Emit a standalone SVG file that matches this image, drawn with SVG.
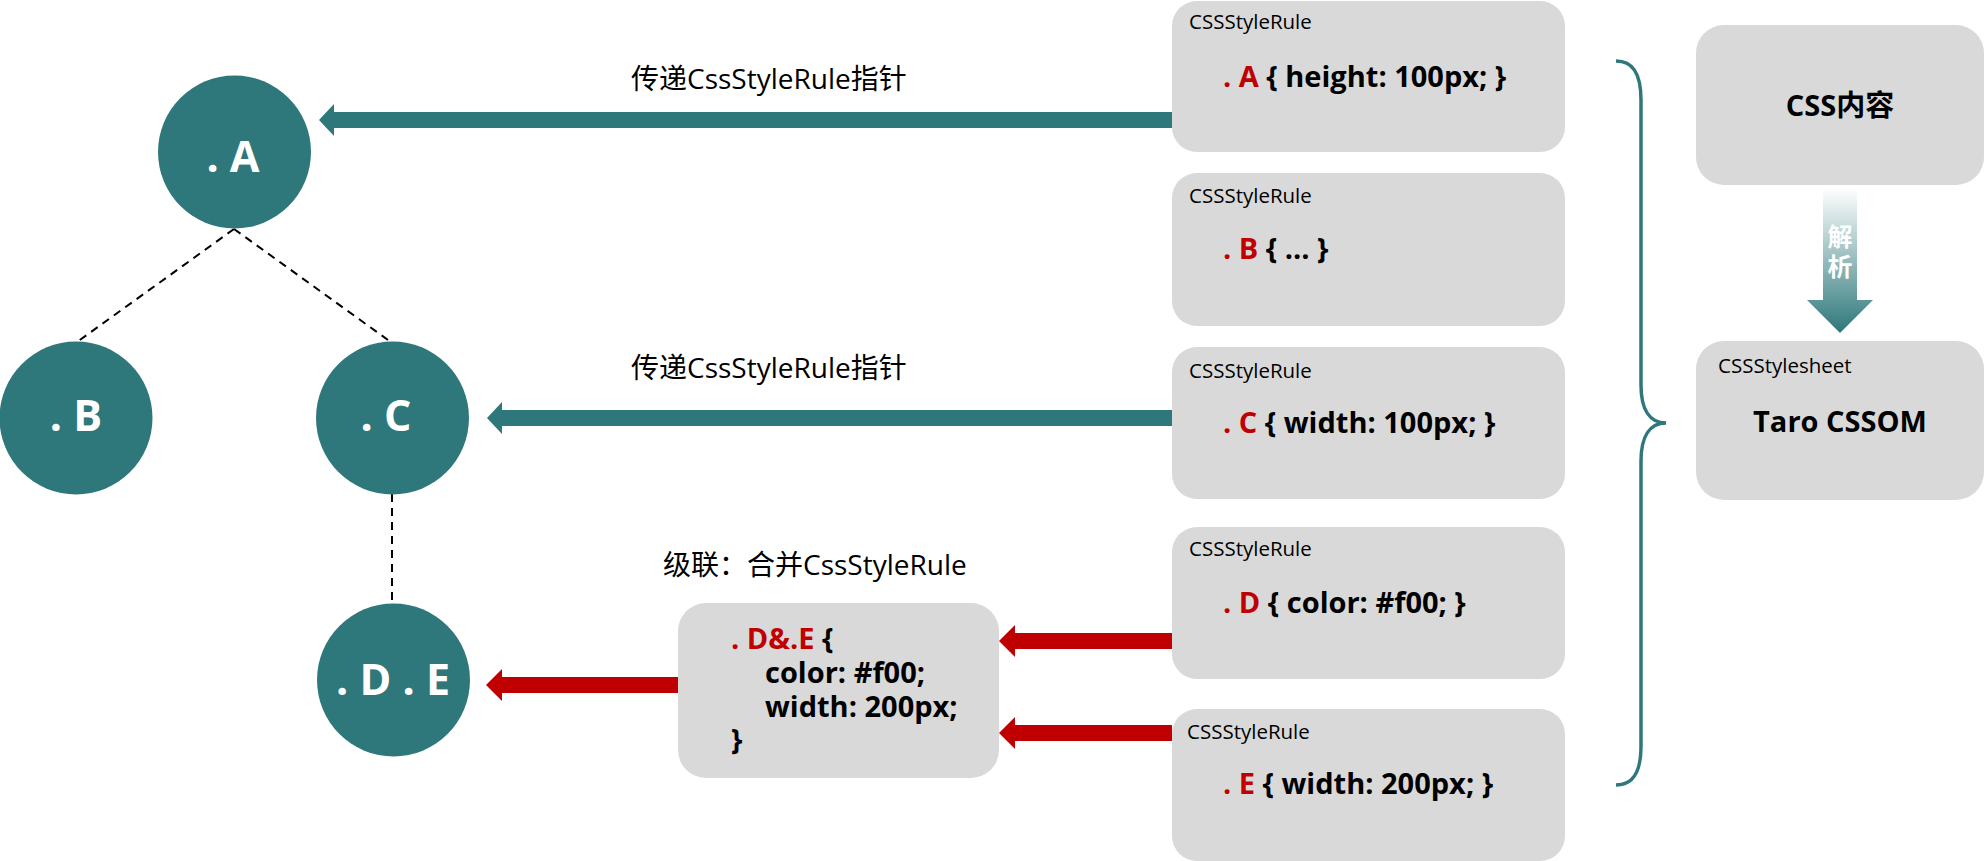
<svg xmlns="http://www.w3.org/2000/svg" width="1985" height="861" viewBox="0 0 1985 861">
  <defs>
    <linearGradient id="parseGrad" gradientUnits="userSpaceOnUse" x1="0" y1="188" x2="0" y2="333">
      <stop offset="0" stop-color="#ffffff"/>
      <stop offset="1" stop-color="#2e787b"/>
    </linearGradient>
  </defs>
  <style>
    text { font-family: "Open Sans", "Noto Sans CJK SC", sans-serif; }
    .circle { fill: #2e787b; }
    .ctext { fill: #ffffff; font-weight: bold; font-size: 43px; text-anchor: middle; }
    .box { fill: #d9d9d9; }
    .lbl { fill: #000000; font-size: 20.5px; }
    .code { fill: #000000; font-weight: bold; font-size: 29px; }
    .red { fill: #c00000; }
    .note { fill: #000000; font-size: 28px; }
    .title { fill: #000000; font-weight: bold; font-size: 29px; text-anchor: middle; }
    .teal-arrow { fill: #2e787b; }
    .red-arrow { fill: #c00000; }
    .dash { stroke: #000000; stroke-width: 2; stroke-dasharray: 8 6; fill: none; }
    .brace { stroke: #2e787b; stroke-width: 3.5; fill: none; }
  </style>

  <!-- connectors -->
  <g id="connectors">
    <line class="dash" x1="234" y1="229" x2="77" y2="342"/>
    <line class="dash" x1="234" y1="229" x2="388" y2="340"/>
    <line class="dash" x1="392" y1="494" x2="392" y2="602"/>
    <polygon class="teal-arrow" points="1172,112 334,112 334,104 319,120 334,136 334,128 1172,128"/>
    <polygon class="teal-arrow" points="1172,410 502,410 502,402 487,418 502,434 502,426 1172,426"/>
    <polygon class="red-arrow" points="678,677 502,677 502,669 486,685 502,701 502,693 678,693"/>
    <polygon class="red-arrow" points="1172,633 1015,633 1015,625 999,641 1015,657 1015,649 1172,649"/>
    <polygon class="red-arrow" points="1172,725 1015,725 1015,717 999,733 1015,749 1015,741 1172,741"/>
    <path class="brace" d="M1616,61 C1632,61 1641,72 1641,100 L1641,385 C1641,410 1650,423 1666,423 C1650,423 1641,436 1641,461 L1641,746 C1641,774 1632,785 1616,785"/>
    <g id="parse-arrow">
      <polygon fill="url(#parseGrad)" points="1823,188 1857,188 1857,300 1873,300 1840,333 1807,300 1823,300"/>
      <text x="1840" y="246" fill="#ffffff" font-size="25" font-weight="bold" text-anchor="middle">解</text>
      <text x="1840" y="276" fill="#ffffff" font-size="25" font-weight="bold" text-anchor="middle">析</text>
    </g>
  </g>

  <!-- labels -->
  <g id="labels">
    <text class="note" x="631" y="89">传递CssStyleRule指针</text>
    <text class="note" x="631" y="378">传递CssStyleRule指针</text>
    <text class="note" x="663" y="575">级联：合并CssStyleRule</text>
  </g>

  <!-- tree nodes -->
  <g id="node-A">
    <circle class="circle" cx="234.5" cy="152" r="76.5"/>
    <text class="ctext" x="233" y="172">. A</text>
  </g>
  <g id="node-B">
    <circle class="circle" cx="76" cy="418" r="76.5"/>
    <text class="ctext" x="76" y="431">. B</text>
  </g>
  <g id="node-C">
    <circle class="circle" cx="392.5" cy="418" r="76.5"/>
    <text class="ctext" x="386" y="431">. C</text>
  </g>
  <g id="node-DE">
    <circle class="circle" cx="393.5" cy="680" r="76.5"/>
    <text class="ctext" x="393" y="695">. D . E</text>
  </g>

  <!-- merged rule -->
  <g id="node-merged">
    <rect class="box" x="678" y="603" width="321" height="175" rx="28"/>
    <text class="code" x="731" y="649"><tspan class="red">. D&amp;.E</tspan> {</text>
    <text class="code" x="765" y="683">color: #f00;</text>
    <text class="code" x="765" y="717">width: 200px;</text>
    <text class="code" x="731" y="750">}</text>
  </g>

  <!-- CSSStyleRule boxes -->
  <g id="rule-A">
    <rect class="box" x="1172" y="1" width="393" height="151" rx="25"/>
    <text class="lbl" x="1189" y="29">CSSStyleRule</text>
    <text class="code" x="1223" y="87"><tspan class="red">. A</tspan> { height: 100px; }</text>
  </g>
  <g id="rule-B">
    <rect class="box" x="1172" y="173" width="393" height="153" rx="25"/>
    <text class="lbl" x="1189" y="203">CSSStyleRule</text>
    <text class="code" x="1223" y="259"><tspan class="red">. B</tspan> { … }</text>
  </g>
  <g id="rule-C">
    <rect class="box" x="1172" y="347" width="393" height="152" rx="25"/>
    <text class="lbl" x="1189" y="378">CSSStyleRule</text>
    <text class="code" x="1223" y="433"><tspan class="red">. C</tspan> { width: 100px; }</text>
  </g>
  <g id="rule-D">
    <rect class="box" x="1172" y="527" width="393" height="152" rx="25"/>
    <text class="lbl" x="1189" y="556">CSSStyleRule</text>
    <text class="code" x="1223" y="613"><tspan class="red">. D</tspan> { color: #f00; }</text>
  </g>
  <g id="rule-E">
    <rect class="box" x="1172" y="709" width="393" height="152" rx="25"/>
    <text class="lbl" x="1187" y="739">CSSStyleRule</text>
    <text class="code" x="1223" y="794"><tspan class="red">. E</tspan> { width: 200px; }</text>
  </g>

  <!-- right side -->
  <g id="css-content">
    <rect class="box" x="1696" y="25" width="288" height="160" rx="28"/>
    <text class="title" x="1840" y="116" font-size="30">CSS内容</text>
  </g>
  <g id="taro-cssom">
    <rect class="box" x="1696" y="341" width="288" height="159" rx="28"/>
    <text class="lbl" x="1718" y="373">CSSStylesheet</text>
    <text class="title" x="1840" y="432">Taro CSSOM</text>
  </g>
</svg>
